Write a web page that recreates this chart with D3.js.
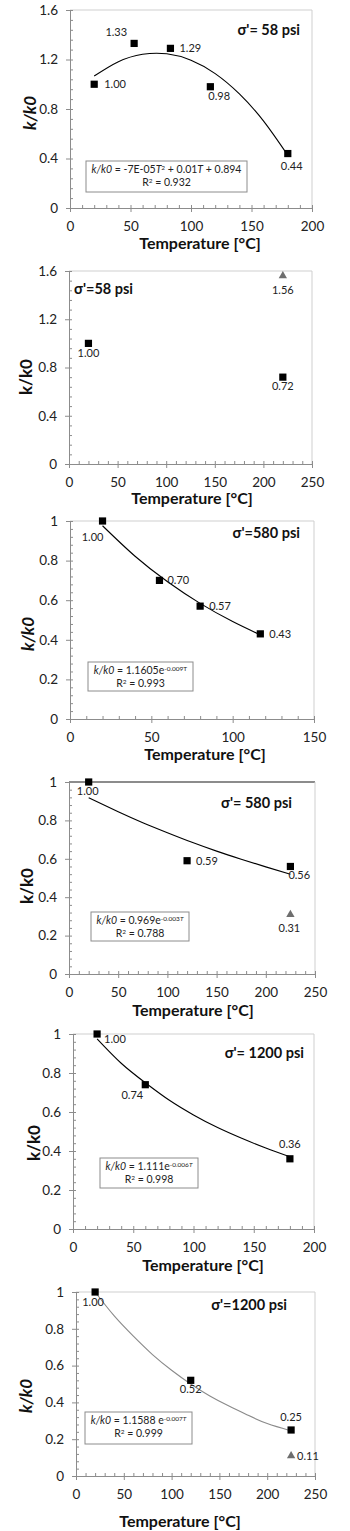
<!DOCTYPE html>
<html lang="en">
<head>
<meta charset="UTF-8" />
<title>k/k0 vs temperature</title>
<script src="https://cdn.jsdelivr.net/npm/d3@7/dist/d3.min.js"></script>
<style>
  body { margin: 0; background: #fff; }
  svg { display: block; font-family: Lato, "Open Sans", sans-serif; }
  .axis path, .axis line { stroke: #8c8c8c; }
  .axis text { font-size: 13.5px; fill: #222; font-family: Lato, sans-serif; }
  .lbl { font-size: 11px; fill: #222; }
</style>
</head>
<body>
<script>
// panel 1 : sigma' = 58 psi (fit shown)
var p1Temp = [20, 53, 83, 116, 180];
var p1Ratio = [1.00, 1.33, 1.29, 0.98, 0.44];
var p1FitTemp = [20, 40, 60, 80, 100, 120, 140, 160, 180];
var p1FitRatio = [1.066, 1.182, 1.242, 1.246, 1.194, 1.086, 0.922, 0.702, 0.426];
var p1XTicks = [0, 50, 100, 150, 200];
var p1YTicks = [0, 0.4, 0.8, 1.2, 1.6];

// panel 2 : sigma' = 58 psi
var p2Temp = [20, 220];
var p2Ratio = [1.00, 0.72];
var p2TriTemp = [220];
var p2TriRatio = [1.56];
var p2XTicks = [0, 50, 100, 150, 200, 250];
var p2YTicks = [0, 0.4, 0.8, 1.2, 1.6];

// panel 3 : sigma' = 580 psi
var p3Temp = [20, 55, 80, 117];
var p3Ratio = [1.00, 0.70, 0.57, 0.43];
var p3FitTemp = [20, 40, 60, 80, 100, 117];
var p3FitRatio = [0.976, 0.822, 0.693, 0.584, 0.492, 0.425];
var p3XTicks = [0, 50, 100, 150];
var p3YTicks = [0, 0.2, 0.4, 0.6, 0.8, 1];

// panel 4 : sigma' = 580 psi
var p4Temp = [20, 120, 225];
var p4Ratio = [1.00, 0.59, 0.56];
var p4TriTemp = [225];
var p4TriRatio = [0.31];
var p4FitTemp = [20, 50, 75, 100, 125, 150, 175, 200, 225];
var p4FitRatio = [0.918, 0.845, 0.788, 0.736, 0.686, 0.640, 0.598, 0.558, 0.520];
var p4XTicks = [0, 50, 100, 150, 200, 250];
var p4YTicks = [0, 0.2, 0.4, 0.6, 0.8, 1];

// panel 5 : sigma' = 1200 psi
var p5Temp = [20, 60, 180];
var p5Ratio = [1.00, 0.74, 0.36];
var p5FitTemp = [20, 40, 60, 80, 100, 120, 140, 160, 180];
var p5FitRatio = [0.975, 0.85, 0.75, 0.66, 0.585, 0.52, 0.465, 0.415, 0.37];
var p5XTicks = [0, 50, 100, 150, 200];
var p5YTicks = [0, 0.2, 0.4, 0.6, 0.8, 1];

// panel 6 : sigma' = 1200 psi
var p6Temp = [20, 120, 225];
var p6Ratio = [1.00, 0.52, 0.25];
var p6TriTemp = [225];
var p6TriRatio = [0.11];
var p6FitTemp = [20, 40, 60, 80, 100, 120, 140, 160, 180, 200, 225];
var p6FitRatio = [1.00, 0.87, 0.76, 0.66, 0.575, 0.50, 0.435, 0.38, 0.33, 0.285, 0.245];
var p6XTicks = [0, 50, 100, 150, 200, 250];
var p6YTicks = [0, 0.2, 0.4, 0.6, 0.8, 1];

// layout per panel (pixels)
var panels = [
  { temp: p1Temp, ratio: p1Ratio, triT: [], triK: [], fitT: p1FitTemp, fitK: p1FitRatio,
    xTicks: p1XTicks, yTicks: p1YTicks, xMinor: 10, yMinor: 0.08,
    left: 70, right: 312, top: 10, bottom: 208,
    lab: [[10, 4, "start"], [-7, -7, "end"], [9, 4, "start"], [-2, 13, "start"], [-7, 16, "start"]],
    triLab: [],
    sigma: "σ'= 58 psi", sx: 300, sy: 35, sa: "end",
    box: [86, 161, 161, 31],
    eq: [["k/k0", "i"], [" = -7E-05", ""], ["T", "i"], ["2", "sup"], [" + 0.01", ""], ["T", "i"], [" + 0.894", ""]],
    r2: "0.932",
    tx: 200, ty: 249, yx: 36, yy: 113, italic: true, fit: "#000" },
  { temp: p2Temp, ratio: p2Ratio, triT: p2TriTemp, triK: p2TriRatio, fitT: [], fitK: [],
    xTicks: p2XTicks, yTicks: p2YTicks, xMinor: 10, yMinor: 0.08,
    left: 69, right: 312, top: 271, bottom: 464,
    lab: [[0, 14, "middle"], [0, 13, "middle"]],
    triLab: [[0, 18, "middle"]],
    sigma: "σ'=58 psi", sx: 74, sy: 294, sa: "start",
    box: null,
    tx: 192, ty: 504, yx: 32, yy: 377, italic: false },
  { temp: p3Temp, ratio: p3Ratio, triT: [], triK: [], fitT: p3FitTemp, fitK: p3FitRatio,
    xTicks: p3XTicks, yTicks: p3YTicks, xMinor: 10, yMinor: 0.04,
    left: 70, right: 314, top: 521, bottom: 719,
    lab: [[-10, 20, "middle"], [8, 4, "start"], [9, 4, "start"], [9, 4, "start"]],
    triLab: [],
    sigma: "σ'=580 psi", sx: 300, sy: 538, sa: "end",
    box: [88, 662, 105, 29],
    eq: [["k/k0", "i"], [" = 1.1605e", ""], ["-0.009T", "sup"]],
    r2: "0.993",
    tx: 205, ty: 760, yx: 34, yy: 634, italic: true, fit: "#000" },
  { temp: p4Temp, ratio: p4Ratio, triT: p4TriTemp, triK: p4TriRatio, fitT: p4FitTemp, fitK: p4FitRatio,
    xTicks: p4XTicks, yTicks: p4YTicks, xMinor: 10, yMinor: 0.04,
    left: 69, right: 315, top: 782, bottom: 974, topLine: true,
    lab: [[-1, 13, "middle"], [9, 4, "start"], [-2, 13, "start"]],
    triLab: [[-1, 18, "middle"]],
    sigma: "σ'= 580 psi", sx: 292, sy: 808, sa: "end",
    box: [91, 912, 98, 29],
    eq: [["k/k0", "i"], [" = 0.969e", ""], ["-0.003", "sup"], ["T", "supi"]],
    r2: "0.788",
    tx: 193, ty: 1016, yx: 33, yy: 886, italic: false, fit: "#000" },
  { temp: p5Temp, ratio: p5Ratio, triT: [], triK: [], fitT: p5FitTemp, fitK: p5FitRatio,
    xTicks: p5XTicks, yTicks: p5YTicks, xMinor: 10, yMinor: 0.04,
    left: 73, right: 314, top: 1034, bottom: 1229,
    lab: [[7, 9, "start"], [-13, 14, "middle"], [0, -11, "middle"]],
    triLab: [],
    sigma: "σ'= 1200 psi", sx: 304, sy: 1058, sa: "end",
    box: [100, 1158, 98, 30],
    eq: [["k/k0", "i"], [" = 1.111e", ""], ["-0.006", "sup"], ["T", "supi"]],
    r2: "0.998",
    tx: 203, ty: 1271, yx: 40, yy: 1143, italic: false, fit: "#000" },
  { temp: p6Temp, ratio: p6Ratio, triT: p6TriTemp, triK: p6TriRatio, fitT: p6FitTemp, fitK: p6FitRatio,
    xTicks: p6XTicks, yTicks: p6YTicks, xMinor: 10, yMinor: 0.04,
    left: 76, right: 315, top: 1292, bottom: 1476,
    lab: [[-2, 14, "middle"], [0, 13, "middle"], [0, -9, "middle"]],
    triLab: [[6, 4, "start"]],
    sigma: "σ'=1200 psi", sx: 287, sy: 1310, sa: "end",
    box: [85, 1412, 107, 32],
    eq: [["k/k0", "i"], [" = 1.1588 e", ""], ["-0.007", "sup"], ["T", "supi"]],
    r2: "0.999",
    tx: 180, ty: 1527, yx: 32, yy: 1396, italic: true, fit: "#8a8a8a" }
];

var svg = d3.select("body").append("svg")
  .attr("width", 350)
  .attr("height", 1531);

svg.append("rect").attr("width", 350).attr("height", 1531).attr("fill", "#fff");

var fmt = d3.format("");

panels.forEach(function(p) {
  var xMax = p.xTicks[p.xTicks.length - 1];
  var yMax = p.yTicks[p.yTicks.length - 1];
  var x = d3.scaleLinear().domain([0, xMax]).range([p.left, p.right]);
  var y = d3.scaleLinear().domain([0, yMax]).range([p.bottom, p.top]);
  var g = svg.append("g");

  // plot border (top + right)
  g.append("line")
    .attr("x1", p.left).attr("x2", p.right).attr("y1", p.top).attr("y2", p.top)
    .attr("stroke", p.topLine ? "#8c8c8c" : "#cfcfcf")
    .attr("stroke-width", p.topLine ? 2 : 1);
  g.append("line")
    .attr("x1", p.right).attr("x2", p.right).attr("y1", p.top).attr("y2", p.bottom)
    .attr("stroke", "#cfcfcf");

  var xMinorVals = d3.range(0, xMax + 0.001, p.xMinor);
  var yMinorVals = d3.range(0, yMax + 0.0001, p.yMinor);

  // minor ticks
  g.append("g").attr("class", "axis")
    .attr("transform", "translate(0," + p.bottom + ")")
    .call(d3.axisTop(x).tickValues(xMinorVals).tickSize(3).tickSizeOuter(0).tickFormat(""))
    .select(".domain").remove();
  g.append("g").attr("class", "axis")
    .attr("transform", "translate(" + p.left + ",0)")
    .call(d3.axisRight(y).tickValues(yMinorVals).tickSize(3).tickSizeOuter(0).tickFormat(""))
    .select(".domain").remove();

  // major axes
  g.append("g").attr("class", "axis")
    .attr("transform", "translate(0," + p.bottom + ")")
    .call(d3.axisBottom(x).tickValues(p.xTicks).tickSize(4).tickSizeOuter(0).tickPadding(9).tickFormat(fmt));
  g.append("g").attr("class", "axis")
    .attr("transform", "translate(" + p.left + ",0)")
    .call(d3.axisLeft(y).tickValues(p.yTicks).tickSize(4).tickSizeOuter(0).tickPadding(8).tickFormat(fmt));

  // fit curve
  if (p.fitT.length) {
    var line = d3.line()
      .x(function(d, i) { return x(p.fitT[i]); })
      .y(function(d, i) { return y(p.fitK[i]); })
      .curve(d3.curveNatural);
    g.append("path")
      .attr("d", line(p.fitT))
      .attr("fill", "none")
      .attr("stroke", p.fit)
      .attr("stroke-width", 1.1);
  }

  // equation box
  if (p.box) {
    var bx = p.box[0], by = p.box[1], bw = p.box[2], bh = p.box[3];
    g.append("rect")
      .attr("x", bx).attr("y", by).attr("width", bw).attr("height", bh)
      .attr("fill", "#fff").attr("stroke", "#8c8c8c");
    var eqText = g.append("text")
      .attr("x", bx + bw / 2).attr("y", by + 12)
      .attr("text-anchor", "middle")
      .attr("font-size", "10.5px").attr("fill", "#222");
    p.eq.forEach(function(s) {
      var t = eqText.append("tspan").text(s[0]);
      if (s[1] == "i") t.attr("font-style", "italic");
      if (s[1] == "sup" || s[1] == "supi") {
        t.attr("font-size", "6.5px").attr("baseline-shift", "super");
        if (s[1] == "supi") t.attr("font-style", "italic");
      }
    });
    var r = g.append("text")
      .attr("x", bx + bw / 2).attr("y", by + 25)
      .attr("text-anchor", "middle")
      .attr("font-size", "10.5px").attr("fill", "#222");
    r.append("tspan").text("R");
    r.append("tspan").text("2").attr("font-size", "6.5px").attr("baseline-shift", "super");
    r.append("tspan").text(" = " + p.r2);
  }

  // square markers
  g.selectAll("rect.pt")
    .data(p.temp)
    .enter()
    .append("rect")
    .attr("class", "pt")
    .attr("x", function(d) { return x(d) - 3.6; })
    .attr("y", function(d, i) { return y(p.ratio[i]) - 3.6; })
    .attr("width", 7.2)
    .attr("height", 7.2)
    .attr("fill", "#000");

  g.selectAll("text.pl")
    .data(p.temp)
    .enter()
    .append("text")
    .attr("class", "lbl pl")
    .attr("x", function(d, i) { return x(d) + p.lab[i][0]; })
    .attr("y", function(d, i) { return y(p.ratio[i]) + p.lab[i][1]; })
    .attr("text-anchor", function(d, i) { return p.lab[i][2]; })
    .text(function(d, i) { return p.ratio[i].toFixed(2); });

  // triangle markers
  var tri = d3.symbol().type(d3.symbolTriangle).size(30);
  g.selectAll("path.tri")
    .data(p.triT)
    .enter()
    .append("path")
    .attr("class", "tri")
    .attr("d", tri)
    .attr("transform", function(d, i) { return "translate(" + x(d) + "," + y(p.triK[i]) + ")"; })
    .attr("fill", "#6e6e6e");

  g.selectAll("text.tl")
    .data(p.triT)
    .enter()
    .append("text")
    .attr("class", "lbl tl")
    .attr("x", function(d, i) { return x(d) + p.triLab[i][0]; })
    .attr("y", function(d, i) { return y(p.triK[i]) + p.triLab[i][1]; })
    .attr("text-anchor", function(d, i) { return p.triLab[i][2]; })
    .text(function(d, i) { return p.triK[i].toFixed(2); });

  // sigma annotation
  g.append("text")
    .attr("x", p.sx).attr("y", p.sy)
    .attr("text-anchor", p.sa)
    .attr("font-size", "14.5px").attr("font-weight", "bold").attr("fill", "#111")
    .text(p.sigma);

  // axis titles
  g.append("text")
    .attr("x", p.tx).attr("y", p.ty)
    .attr("text-anchor", "middle")
    .attr("font-size", "16px").attr("font-weight", "bold").attr("fill", "#111")
    .text("Temperature [°C]");
  g.append("text")
    .attr("transform", "translate(" + p.yx + "," + p.yy + ") rotate(-90)")
    .attr("text-anchor", "middle")
    .attr("font-size", "17px").attr("font-weight", "bold").attr("fill", "#111")
    .attr("font-style", p.italic ? "italic" : "normal")
    .text("k/k0");
});
</script>
</body>
</html>
